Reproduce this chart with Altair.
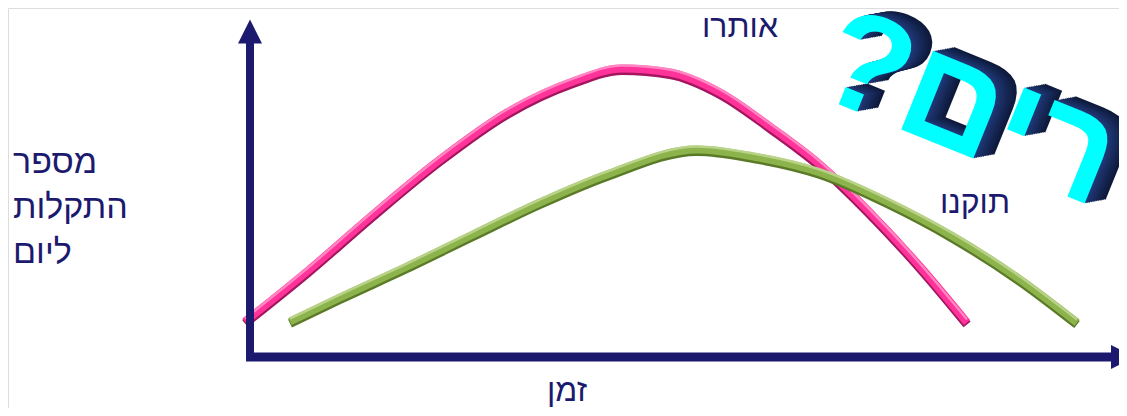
import altair as alt
import pandas as pd

NAVY = "#1c1a6e"
FONT = "Liberation Sans"

# ---- data (time units, failures per day) ----
pink_time = [-0.5, 5.7, 12.3, 19.0, 25.7, 32.3, 37.2, 42.0, 47.0, 52.0, 57.0, 62.0, 67.0, 71.7]
pink_fail = [8.75, 21.25, 35.5, 49.25, 61.0, 68.75, 72.0, 71.0, 66.0, 57.5, 48.0, 36.0, 22.5, 8.5]

green_time = [4.0, 9.0, 15.7, 22.3, 29.0, 35.7, 44.7, 50.3, 57.0, 63.7, 70.3, 77.0, 82.7]
green_fail = [8.75, 14.75, 22.5, 30.5, 38.5, 45.5, 51.75, 50.0, 46.0, 38.75, 30.0, 19.25, 8.5]

label_text = ["אותרו", "תוקנו", "זמן"]
label_t = [49.0, 72.5, 31.7]
label_v = [80.0, 36.0, -11.0]

ylabel_lines = ["מספר", "התקלות", "ליום"]
ylabel_t = [-23.7, -23.7, -23.7]
ylabel_v = [46.0, 34.75, 23.5]

big_text = ["?רים"]
big_t = [56.1]
big_v = [66.0]

axis_y_t = [0.0, 0.0]
axis_y_v = [-1.0, 78.5]
axis_x_t = [-0.4, 86.1]
axis_x_v = [0.0, 0.0]
arrow_up_t, arrow_up_v = [0.0], [81.4]
arrow_right_t, arrow_right_v = [87.3], [0.0]

# ---- scales ----
XS = alt.Scale(domain=[-24.2, 86.9], nice=False, zero=False)
YS = alt.Scale(domain=[-12.75, 87.25], nice=False, zero=False)
X = alt.X("t:Q", scale=XS, axis=None)
Y = alt.Y("v:Q", scale=YS, axis=None)
X2 = alt.X2("t2:Q")
Y2 = alt.Y2("v2:Q")


def tube(times, vals, shadow, main, light):
    df = pd.DataFrame({"t": times, "v": vals})
    base = alt.Chart(df).encode(x=X, y=Y)
    common = dict(interpolate="monotone", strokeCap="butt", strokeJoin="round")
    return [
        base.mark_line(color=shadow, strokeWidth=9, yOffset=1.5, **common),
        base.mark_line(color=main, strokeWidth=8, yOffset=-0.5, **common),
        base.mark_line(color=light, strokeWidth=2.5, yOffset=-3.5, opacity=0.9, **common),
    ]


layers = []
layers += tube(pink_time, pink_fail, "#a3165f", "#ff3399", "#ff8fc6")
layers += tube(green_time, green_fail, "#5a7a28", "#8db34c", "#bcd68f")

# axes
ydf = pd.DataFrame({"t": [axis_y_t[0]], "v": [axis_y_v[0]], "t2": [axis_y_t[1]], "v2": [axis_y_v[1]]})
xdf = pd.DataFrame({"t": [axis_x_t[0]], "v": [axis_x_v[0]], "t2": [axis_x_t[1]], "v2": [axis_x_v[1]]})
layers.append(alt.Chart(ydf).mark_rule(color=NAVY, strokeWidth=8, strokeCap="butt").encode(x=X, y=Y, y2=Y2))
layers.append(alt.Chart(xdf).mark_rule(color=NAVY, strokeWidth=9, strokeCap="butt").encode(x=X, x2=X2, y=Y))
layers.append(
    alt.Chart(pd.DataFrame({"t": arrow_up_t, "v": arrow_up_v}))
    .mark_point(shape="M0,-1L1,1L-1,1Z", size=576, filled=True, color=NAVY, opacity=1, strokeWidth=0)
    .encode(x=X, y=Y)
)
layers.append(
    alt.Chart(pd.DataFrame({"t": arrow_right_t, "v": arrow_right_v}))
    .mark_point(shape="M1,0L-1,-1L-1,1Z", size=576, filled=True, color=NAVY, opacity=1, strokeWidth=0)
    .encode(x=X, y=Y)
)

# labels
ldf = pd.DataFrame({"t": label_t, "v": label_v, "txt": label_text})
layers.append(
    alt.Chart(ldf)
    .mark_text(font=FONT, fontSize=32, color=NAVY, align="center", baseline="alphabetic")
    .encode(x=X, y=Y, text="txt:N")
)
yldf = pd.DataFrame({"t": ylabel_t, "v": ylabel_v, "txt": ylabel_lines})
layers.append(
    alt.Chart(yldf)
    .mark_text(font=FONT, fontSize=34, color=NAVY, align="left", baseline="alphabetic")
    .encode(x=X, y=Y, text="txt:N")
)

# big 3D decorative text
bdf = pd.DataFrame({"t": big_t, "v": big_v, "txt": big_text})
steps = 12
dark = (14, 26, 58)
lite = (32, 56, 118)
for i in range(steps, 0, -1):
    f = (steps - i) / (steps - 1)
    c = tuple(int(dark[k] + (lite[k] - dark[k]) * f) for k in range(3))
    col = "#%02x%02x%02x" % c
    layers.append(
        alt.Chart(bdf)
        .mark_text(font=FONT, fontSize=140, fontWeight="bold", angle=22, align="left",
                   baseline="alphabetic", color=col, dx=i * 1.5, dy=-i * 0.95)
        .encode(x=X, y=Y, text="txt:N")
    )
layers.append(
    alt.Chart(bdf)
    .mark_text(font=FONT, fontSize=140, fontWeight="bold", angle=22, align="left",
               baseline="alphabetic", color="#00ffff")
    .encode(x=X, y=Y, text="txt:N")
)

chart = (
    alt.layer(*layers)
    .properties(width=1111, height=400, padding=0, autosize=alt.AutoSizeParams(type="none"))
    .configure_view(strokeWidth=0, stroke="transparent")
    .configure(background="white")
)

chart.save("out.html", embed_options={"renderer": "svg", "actions": False})
